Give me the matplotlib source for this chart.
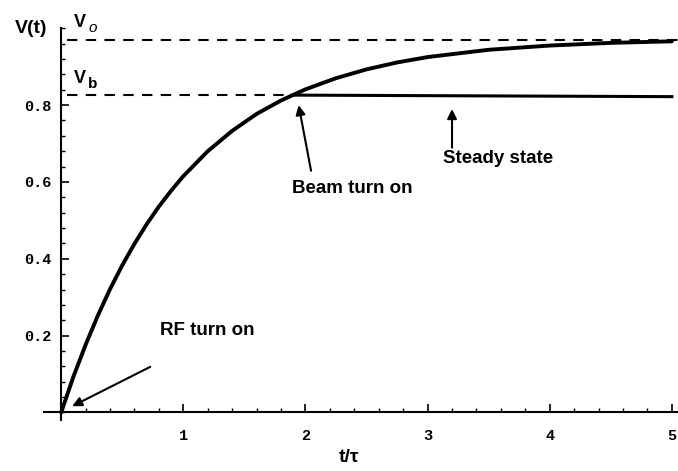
import matplotlib
matplotlib.use("Agg")
import matplotlib.pyplot as plt
from matplotlib.ticker import MultipleLocator, FixedLocator

# values
t_curve = [0, 0.1, 0.2, 0.3, 0.4, 0.5, 0.6, 0.7, 0.8, 0.9, 1.0, 1.2, 1.4, 1.6,
           1.8, 2.0, 2.25, 2.5, 2.75, 3.0, 3.5, 4.0, 4.5, 5.0]
v_curve = [0, 0.093, 0.176, 0.252, 0.321, 0.383, 0.439, 0.490, 0.536, 0.577,
           0.615, 0.680, 0.733, 0.777, 0.812, 0.841, 0.870, 0.893, 0.911, 0.925,
           0.944, 0.955, 0.962, 0.966]
t_steady = [1.89, 5.0]
v_steady = [0.826, 0.822]
V0 = 0.970
Vb = 0.826
xticks = [1, 2, 3, 4, 5]
yticks = [0.2, 0.4, 0.6, 0.8]

fig = plt.figure(figsize=(6.78, 4.71), dpi=100)
ax = fig.add_axes([0.065, 0.108, 0.935, 0.832])
ax.set_xlim(-0.14, 5.05)
ax.set_ylim(-0.02, 1.0)

ax.plot(t_curve, v_curve, color="black", lw=2.8, solid_capstyle="round")
ax.plot(t_steady, v_steady, color="black", lw=2.2)
ax.plot([0.05, 5.05], [V0, V0], color="black", lw=1.5, ls=(0, (5, 4)))
ax.plot([0.05, 1.89], [Vb, Vb], color="black", lw=1.5, ls=(0, (5, 4)))

for s in ["top", "right"]:
    ax.spines[s].set_visible(False)
ax.spines["left"].set_position(("data", 0))
ax.spines["bottom"].set_position(("data", 0))
ax.spines["left"].set_linewidth(1.5)
ax.spines["bottom"].set_linewidth(1.5)

ax.xaxis.set_major_locator(FixedLocator(xticks))
ax.xaxis.set_minor_locator(MultipleLocator(0.2))
ax.yaxis.set_major_locator(FixedLocator(yticks))
ax.yaxis.set_minor_locator(MultipleLocator(0.04))
ax.set_xticklabels([str(x) for x in xticks])
ax.set_yticklabels([f"{y:.1f}" for y in yticks])
ax.tick_params(which="major", direction="in", length=6, width=1.2)
ax.tick_params(which="minor", direction="in", length=3, width=1.0)
ax.tick_params(axis="x", which="major", pad=12)
ax.tick_params(axis="y", which="major", pad=7)
for lab in ax.get_xticklabels() + ax.get_yticklabels():
    lab.set_fontfamily("Liberation Mono")
    lab.set_fontweight("bold")
    lab.set_fontsize(11)

font = dict(family="Liberation Sans", weight="bold")
arrow = dict(arrowstyle="-|>", color="black", lw=1.5, mutation_scale=14)

ax.text(0.81, 0.214, "RF turn on", fontsize=13.5, ha="left", va="center", **font)
ax.annotate("", xy=(0.07, 0.013), xytext=(0.75, 0.122), arrowprops=arrow)
ax.text(2.38, 0.583, "Beam turn on", fontsize=13.5, ha="center", va="center", **font)
ax.annotate("", xy=(1.94, 0.807), xytext=(2.05, 0.622), arrowprops=arrow)
ax.text(3.58, 0.661, "Steady state", fontsize=13.5, ha="center", va="center", **font)
ax.annotate("", xy=(3.20, 0.797), xytext=(3.20, 0.682), arrowprops=arrow)

ax.text(-0.25, 1.0, "V(t)", fontsize=14, ha="center", va="center", clip_on=False, **font)
ax.text(0.10, 1.016, "V", fontsize=13, ha="left", va="center", clip_on=False, **font)
ax.text(0.22, 1.0, "o", fontsize=11, ha="left", va="center", clip_on=False,
        family="Liberation Sans", style="italic")
ax.text(0.10, 0.87, "V", fontsize=13, ha="left", va="center", clip_on=False, **font)
ax.text(0.22, 0.855, "b", fontsize=11, ha="left", va="center", clip_on=False, **font)
ax.text(2.36, -0.117, "t/\u03c4", fontsize=14, ha="center", va="center", clip_on=False, **font)

fig.savefig("out.png", dpi=100)
